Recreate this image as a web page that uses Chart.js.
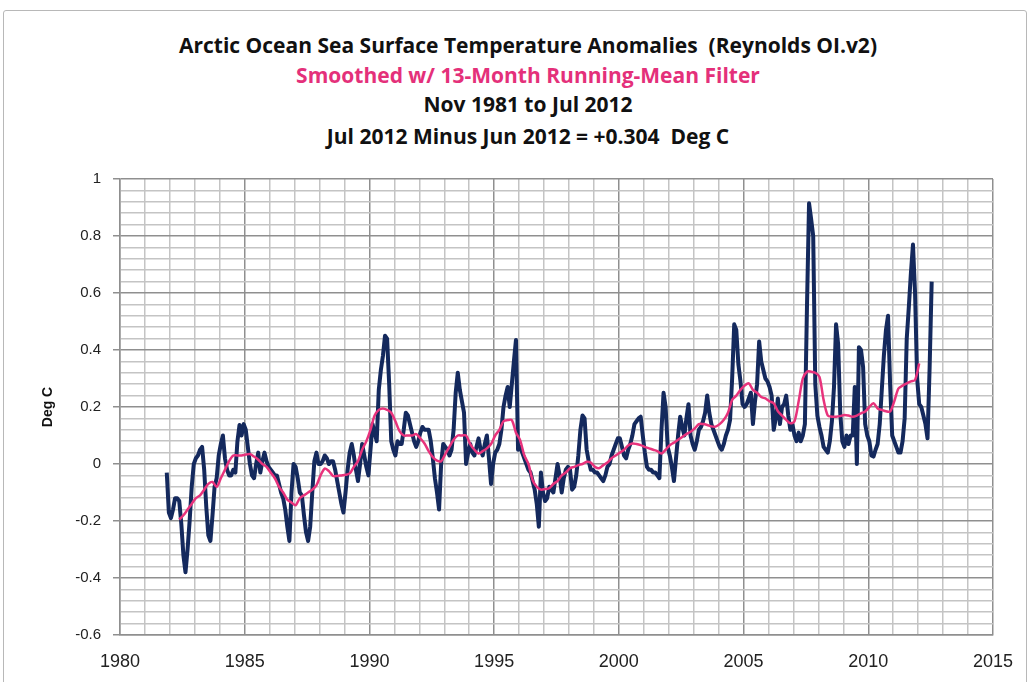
<!DOCTYPE html>
<html>
<head>
<meta charset="utf-8">
<script src="https://cdn.jsdelivr.net/npm/chart.js@4.4.1/dist/chart.umd.min.js"></script>
<style>
    body { margin: 0; background: #fff; }
    #wrap { position: relative; width: 1030px; height: 682px; overflow: hidden; background: #fff; }
    #frame { position: absolute; left: 3px; top: 10px; width: 1022px; height: 700px; border: 1px solid #b8b8b8; border-radius: 3px; }
    .t { position: absolute; left: 0; width: 1056px; text-align: center; font-family: "Open Sans", "Liberation Sans", sans-serif; font-weight: bold; font-size: 21px; line-height: 24px; color: #111; white-space: pre; }
    canvas { position: absolute; left: 0; top: 0; }
</style>
</head>
<body>
<div id="wrap">
    <div id="frame"></div>
    <div class="t" style="top:33px">Arctic Ocean Sea Surface Temperature Anomalies  (Reynolds OI.v2)</div>
    <div class="t" style="top:63px; color:#e4307a">Smoothed w/ 13-Month Running-Mean Filter</div>
    <div class="t" style="top:92px">Nov 1981 to Jul 2012</div>
    <div class="t" style="top:124px">Jul 2012 Minus Jun 2012 = +0.304  Deg C</div>
    <canvas id="chartSST" width="1030" height="682"></canvas>
</div>
<script>
// monthly anomalies, Nov 1981 .. Jul 2012 (deg C)
const rawStartYear = 1981, rawStartMonth = 11;
const rawValues = [
    -0.03, -0.17,
    -0.19, -0.16, -0.12, -0.12, -0.13, -0.21, -0.32, -0.38, -0.30, -0.20, -0.08, 0.00,
    0.02, 0.03, 0.05, 0.06, -0.02, -0.15, -0.25, -0.27, -0.18, -0.08, -0.05, 0.03,
    0.07, 0.10, 0.02, -0.02, -0.04, -0.04, -0.02, -0.03, 0.08, 0.137, 0.10, 0.14,
    0.12, 0.06, 0.00, -0.04, -0.05, 0.00, 0.04, -0.03, 0.01, 0.04, 0.01, -0.01,
    -0.02, -0.03, -0.04, -0.04, -0.07, -0.10, -0.12, -0.16, -0.22, -0.27, -0.10, 0.00,
    -0.01, -0.05, -0.10, -0.11, -0.18, -0.24, -0.27, -0.22, -0.10, 0.01, 0.04, 0.00,
    0.00, 0.01, 0.03, 0.02, 0.00, 0.01, 0.01, -0.02, -0.06, -0.10, -0.14, -0.17,
    -0.10, -0.02, 0.04, 0.07, 0.03, -0.02, -0.06, 0.00, 0.07, 0.03, -0.01, -0.04,
    0.05, 0.14, 0.11, 0.08, 0.26, 0.33, 0.38, 0.45, 0.44, 0.28, 0.08, 0.05,
    0.03, 0.08, 0.07, 0.07, 0.12, 0.18, 0.17, 0.14, 0.11, 0.08, 0.06, 0.08,
    0.11, 0.13, 0.12, 0.12, 0.12, 0.08, 0.02, -0.05, -0.10, -0.16, 0.00, 0.07,
    0.06, 0.05, 0.03, 0.05, 0.12, 0.25, 0.32, 0.26, 0.22, 0.18, 0.00, 0.04,
    0.07, 0.04, 0.03, 0.06, 0.09, 0.05, 0.03, 0.07, 0.10, 0.02, -0.07, 0.00,
    0.04, 0.05, 0.07, 0.12, 0.20, 0.24, 0.27, 0.20, 0.28, 0.36, 0.435, 0.05,
    0.06, 0.04, 0.02, 0.00, -0.02, -0.03, -0.06, -0.09, -0.14, -0.22, -0.03, -0.10,
    -0.13, -0.12, -0.08, -0.09, -0.10, -0.05, 0.00, -0.04, -0.10, -0.05, -0.02, -0.01,
    -0.02, -0.09, -0.08, -0.04, 0.03, 0.12, 0.17, 0.16, 0.05, 0.01, -0.02, -0.02,
    -0.03, -0.03, -0.04, -0.05, -0.06, -0.04, -0.01, 0.00, 0.03, 0.05, 0.07, 0.09,
    0.09, 0.06, 0.03, 0.02, 0.05, 0.07, 0.10, 0.14, 0.15, 0.16, 0.166, 0.10,
    0.04, -0.01, -0.02, -0.02, -0.03, -0.03, -0.04, -0.05, 0.12, 0.25, 0.20, 0.06,
    0.03, -0.01, -0.06, 0.02, 0.10, 0.166, 0.13, 0.10, 0.16, 0.21, 0.10, 0.07,
    0.05, 0.08, 0.12, 0.13, 0.15, 0.18, 0.24, 0.18, 0.14, 0.12, 0.10, 0.08,
    0.06, 0.05, 0.07, 0.10, 0.12, 0.155, 0.30, 0.49, 0.47, 0.35, 0.29, 0.21,
    0.20, 0.21, 0.23, 0.25, 0.14, 0.22, 0.28, 0.43, 0.36, 0.33, 0.30, 0.29,
    0.27, 0.24, 0.12, 0.16, 0.23, 0.14, 0.20, 0.21, 0.24, 0.17, 0.12, 0.14,
    0.10, 0.08, 0.11, 0.08, 0.10, 0.14, 0.55, 0.915, 0.86, 0.80, 0.28, 0.17,
    0.13, 0.10, 0.06, 0.05, 0.04, 0.08, 0.15, 0.27, 0.49, 0.42, 0.18, 0.08,
    0.06, 0.10, 0.07, 0.10, 0.10, 0.27, 0.00, 0.41, 0.40, 0.34, 0.14, 0.10,
    0.08, 0.03, 0.026, 0.05, 0.07, 0.14, 0.26, 0.38, 0.47, 0.52, 0.28, 0.10,
    0.08, 0.06, 0.04, 0.04, 0.08, 0.16, 0.44, 0.55, 0.67, 0.77, 0.60, 0.30,
    0.21, 0.20, 0.17, 0.14, 0.09, 0.336, 0.64
];

// 13-month running mean, every 2nd month from May 1982
const smoothStartYear = 1982, smoothStartMonth = 5, smoothStep = 2;
const smoothValues = [
    -0.195, -0.18, -0.16, -0.14,
    -0.12, -0.11, -0.09, -0.07, -0.063, -0.08,
    -0.05, -0.02, 0.01, 0.03, 0.03, 0.03,
    0.033, 0.035, 0.026, 0.015, 0.00, -0.01,
    -0.03, -0.05, -0.08, -0.10, -0.125, -0.135,
    -0.145, -0.12, -0.11, -0.10, -0.09, -0.075,
    -0.04, -0.016, -0.025, -0.042, -0.042, -0.04,
    -0.038, -0.033, -0.01, 0.01, 0.05, 0.08,
    0.12, 0.17, 0.19, 0.195, 0.19, 0.18,
    0.15, 0.115, 0.10, 0.10, 0.10, 0.105,
    0.09, 0.072, 0.045, 0.024, 0.012, 0.01,
    0.035, 0.06, 0.085, 0.10, 0.10, 0.10,
    0.07, 0.05, 0.037, 0.045, 0.055, 0.07,
    0.10, 0.12, 0.15, 0.154, 0.154, 0.11,
    0.084, 0.03, 0.00, -0.056, -0.08, -0.09,
    -0.088, -0.085, -0.07, -0.06, -0.04, -0.03,
    -0.015, -0.01, -0.004, 0.00, 0.008, 0.005,
    -0.01, -0.015, -0.004, 0.005, 0.02, 0.03,
    0.04, 0.05, 0.065, 0.072, 0.07, 0.066,
    0.06, 0.055, 0.05, 0.045, 0.037, 0.05,
    0.066, 0.075, 0.085, 0.095, 0.105, 0.113,
    0.125, 0.14, 0.14, 0.137, 0.132, 0.131,
    0.14, 0.155, 0.18, 0.225, 0.24, 0.26,
    0.275, 0.283, 0.26, 0.25, 0.235, 0.23,
    0.22, 0.213, 0.185, 0.17, 0.155, 0.143,
    0.15, 0.22, 0.30, 0.324, 0.324, 0.32,
    0.306, 0.225, 0.17, 0.166, 0.166, 0.168,
    0.172, 0.17, 0.166, 0.17, 0.178, 0.184,
    0.20, 0.213, 0.195, 0.19, 0.185, 0.184,
    0.22, 0.265, 0.275, 0.283, 0.29, 0.295,
    0.353
];

const xLabelYears = [1980, 1985, 1990, 1995, 2000, 2005, 2010, 2015];
const yLabelValues = [-0.6, -0.4, -0.2, 0, 0.2, 0.4, 0.6, 0.8, 1];

const FONT = '"Liberation Sans", Arial, sans-serif';
const GRID_MINOR = '#c4c4c4';
const GRID_MAJOR = '#8f8f8f';

function monthPos(year, month, i, step) {
    return year + (month - 1 + i * step + 0.5) / 12;
}
const rawPoints = rawValues.map((v, i) => ({ x: monthPos(rawStartYear, rawStartMonth, i, 1), y: v }));
const smoothPoints = smoothValues.map((v, i) => ({ x: monthPos(smoothStartYear, smoothStartMonth, i, smoothStep), y: v }));

const isYLabel = v => yLabelValues.some(l => Math.abs(l - v) < 1e-6);
const isXLabel = v => xLabelYears.includes(Math.round(v)) && Math.abs(v - Math.round(v)) < 1e-6;

const cv = document.getElementById('chartSST');
new Chart(cv.getContext('2d'), {
    type: 'line',
    data: {
        datasets: [
            { label: '13-Month Running Mean', data: smoothPoints, borderColor: '#e8337c', borderWidth: 2.5, pointRadius: 0, fill: false, tension: 0.3 },
            { label: 'Monthly', data: rawPoints, borderColor: '#14295d', borderWidth: 4, pointRadius: 0, fill: false, tension: 0, borderJoinStyle: 'round' }
        ]
    },
    options: {
        responsive: false,
        devicePixelRatio: 1,
        animation: false,
        events: [],
        layout: { padding: { top: 179, right: 37, left: 0, bottom: 0 } },
        plugins: { legend: { display: false }, tooltip: { enabled: false }, title: { display: false } },
        scales: {
            x: {
                type: 'linear', min: 1980, max: 2015,
                afterFit: s => { s.height = 47; s.paddingLeft = 0; s.paddingRight = 0; },
                ticks: {
                    stepSize: 1, autoSkip: false, maxRotation: 0, padding: 16,
                    color: '#222', font: { family: FONT, size: 18 },
                    callback: v => isXLabel(v) ? String(Math.round(v)) : ''
                },
                grid: {
                    drawTicks: false, lineWidth: 1.5,
                    color: c => isXLabel(c.tick.value) || Math.round(c.tick.value) % 5 === 0 ? GRID_MAJOR : GRID_MINOR
                },
                border: { display: true, color: GRID_MAJOR, width: 1.5 }
            },
            y: {
                type: 'linear', min: -0.6, max: 1,
                afterFit: s => { s.width = 120; s.paddingTop = 0; s.paddingBottom = 0; },
                title: { display: true, text: 'Deg C', color: '#111', font: { family: FONT, size: 14, weight: 'bold' }, padding: { top: 40, bottom: 0 } },
                ticks: {
                    stepSize: 0.04, autoSkip: false, padding: 12,
                    color: '#222', font: { family: FONT, size: 15 },
                    callback: v => isYLabel(v) ? String(Math.round(v * 10) / 10) : ''
                },
                grid: {
                    lineWidth: 1.5, tickLength: 7,
                    color: c => isYLabel(c.tick.value) ? GRID_MAJOR : GRID_MINOR,
                    tickColor: c => isYLabel(c.tick.value) ? GRID_MAJOR : 'rgba(0,0,0,0)'
                },
                border: { display: true, color: GRID_MAJOR, width: 1.5 }
            }
        }
    }
});
</script>
</body>
</html>
